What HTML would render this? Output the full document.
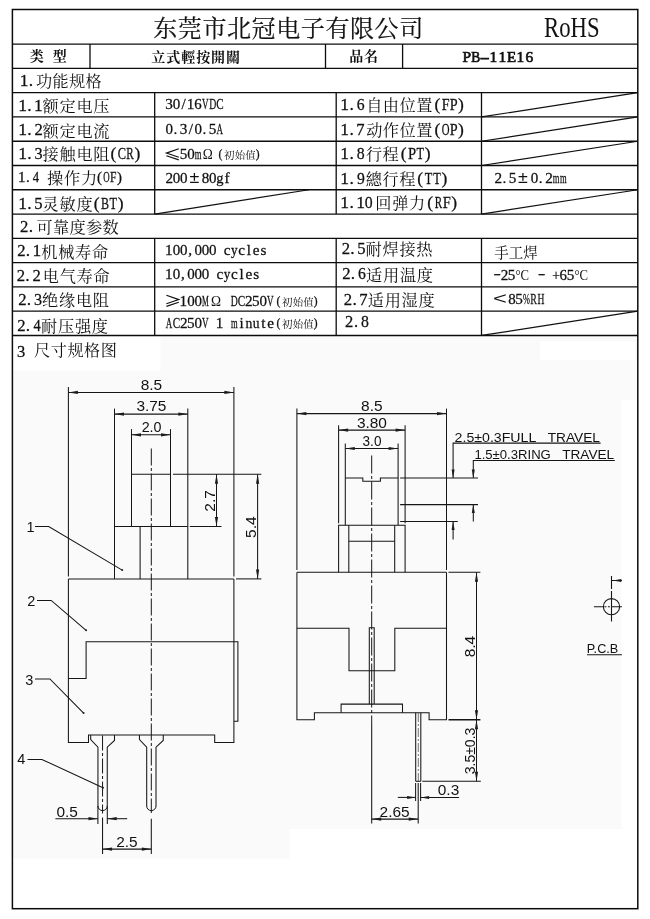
<!DOCTYPE html>
<html lang="zh">
<head>
<meta charset="utf-8">
<title>PB-11E16 Specification Sheet</title>
<style>
html,body{margin:0;padding:0;background:#fff;}
body{width:650px;height:919px;overflow:hidden;font-family:"Liberation Sans",sans-serif;}
svg{display:block;position:absolute;left:0;top:0;will-change:transform;}
svg text{fill:#111;white-space:pre;}
svg .k{stroke:#111;stroke-width:0.28px;}
svg .k2{stroke:#111;stroke-width:0.7px;}
svg .t text{stroke:#111;stroke-width:0.2px;}
svg .cj{font-family:"Liberation Serif","Noto Serif CJK SC",serif;}
svg .cjb{font-family:"Liberation Serif","Noto Serif CJK SC",serif;font-weight:bold;}
</style>
</head>
<body>
<svg width="650" height="919" viewBox="0 0 650 919">
<path d="M12.4 335.46 H637.8 V400 H621.5 V829 H290 V858.5 H12.4 Z" fill="#fafafa"/>
<rect x="12.4" y="336.46" width="148" height="34" fill="#fff"/>
<rect x="540" y="341" width="95" height="19" fill="#fff"/>
<rect x="12.4" y="9.5" width="625.4" height="899.2" fill="none" stroke="#0c0c0c" stroke-width="1.5"/>
<line x1="12.4" y1="44.1" x2="637.8" y2="44.1" stroke="#0c0c0c" stroke-width="1.35"/>
<line x1="12.4" y1="68.38" x2="637.8" y2="68.38" stroke="#0c0c0c" stroke-width="1.35"/>
<line x1="12.4" y1="92.66" x2="637.8" y2="92.66" stroke="#0c0c0c" stroke-width="1.35"/>
<line x1="12.4" y1="116.94" x2="637.8" y2="116.94" stroke="#0c0c0c" stroke-width="1.35"/>
<line x1="12.4" y1="141.22" x2="637.8" y2="141.22" stroke="#0c0c0c" stroke-width="1.35"/>
<line x1="12.4" y1="165.5" x2="637.8" y2="165.5" stroke="#0c0c0c" stroke-width="1.35"/>
<line x1="12.4" y1="189.78" x2="637.8" y2="189.78" stroke="#0c0c0c" stroke-width="1.35"/>
<line x1="12.4" y1="214.06" x2="637.8" y2="214.06" stroke="#0c0c0c" stroke-width="1.35"/>
<line x1="12.4" y1="238.34" x2="637.8" y2="238.34" stroke="#0c0c0c" stroke-width="1.35"/>
<line x1="12.4" y1="262.62" x2="637.8" y2="262.62" stroke="#0c0c0c" stroke-width="1.35"/>
<line x1="12.4" y1="286.9" x2="637.8" y2="286.9" stroke="#0c0c0c" stroke-width="1.35"/>
<line x1="12.4" y1="311.18" x2="637.8" y2="311.18" stroke="#0c0c0c" stroke-width="1.35"/>
<line x1="12.4" y1="335.46" x2="637.8" y2="335.46" stroke="#0c0c0c" stroke-width="1.35"/>
<line x1="90.0" y1="44.1" x2="90.0" y2="68.38" stroke="#0c0c0c" stroke-width="1.3"/>
<line x1="325.5" y1="44.1" x2="325.5" y2="68.38" stroke="#0c0c0c" stroke-width="1.3"/>
<line x1="402.6" y1="44.1" x2="402.6" y2="68.38" stroke="#0c0c0c" stroke-width="1.3"/>
<line x1="154.7" y1="92.66" x2="154.7" y2="214.06" stroke="#0c0c0c" stroke-width="1.3"/>
<line x1="336.2" y1="92.66" x2="336.2" y2="214.06" stroke="#0c0c0c" stroke-width="1.3"/>
<line x1="481.5" y1="92.66" x2="481.5" y2="214.06" stroke="#0c0c0c" stroke-width="1.3"/>
<line x1="154.7" y1="238.34" x2="154.7" y2="335.46" stroke="#0c0c0c" stroke-width="1.3"/>
<line x1="336.2" y1="238.34" x2="336.2" y2="335.46" stroke="#0c0c0c" stroke-width="1.3"/>
<line x1="481.5" y1="238.34" x2="481.5" y2="335.46" stroke="#0c0c0c" stroke-width="1.3"/>
<line x1="481.5" y1="116.94" x2="637.8" y2="92.66" stroke="#111" stroke-width="1.2"/>
<line x1="481.5" y1="141.22" x2="637.8" y2="116.94" stroke="#111" stroke-width="1.2"/>
<line x1="481.5" y1="165.5" x2="637.8" y2="141.22" stroke="#111" stroke-width="1.2"/>
<line x1="481.5" y1="214.06" x2="637.8" y2="189.78" stroke="#111" stroke-width="1.2"/>
<line x1="154.7" y1="214.06" x2="309.0" y2="189.78" stroke="#111" stroke-width="1.2"/>
<line x1="481.5" y1="335.46" x2="637.8" y2="311.18" stroke="#111" stroke-width="1.2"/>
<g class="t" aria-label="东莞市北冠电子有限公司"><text class="cj" font-size="24" y="36.52" x="153.20 177.80 202.40 227.00 251.60 276.20 300.80 325.40 350.00 374.60 399.20">东莞市北冠电子有限公司</text></g>
<text transform="translate(544.00,36.80) scale(0.7950,1)" font-family="Liberation Serif" font-size="28.6" text-anchor="start">RoHS</text>
<g aria-label="类"><text class="cjb" font-size="14" x="29.80" y="61.32">类</text></g>
<g aria-label="型"><text class="cjb" font-size="14" x="52.80" y="61.32">型</text></g>
<g aria-label="立式輕按開關"><text class="cjb" font-size="14" y="61.52" x="151.30 166.25 181.20 196.15 211.10 226.05">立式輕按開關</text></g>
<g aria-label="品名"><text class="cjb" font-size="14" y="60.92" x="349.30 364.10">品名</text></g>
<text class="k2" x="462.58" y="61.60" font-family="Liberation Serif" font-size="15.4">P</text>
<text class="k2" transform="translate(471.36,61.60) scale(0.876,1)" font-family="Liberation Serif" font-size="15.4" stroke-width="0.39">B</text>
<text class="k2" transform="translate(479.79,61.60) scale(1.900,1)" font-family="Liberation Serif" font-size="15.4">-</text>
<text class="k2" x="489.56 498.51" y="61.60" font-family="Liberation Serif" font-size="15.4">11</text>
<text class="k2" transform="translate(507.12,61.60) scale(0.970,1)" font-family="Liberation Serif" font-size="15.4" stroke-width="0.30">E</text>
<text class="k2" x="516.41 525.47" y="61.60" font-family="Liberation Serif" font-size="15.4">16</text>
<text class="k" x="19.63 28.86" y="85.98" font-family="Liberation Serif" font-size="17.5">1.</text>
<g aria-label="功能规格"><text class="cj" font-size="16.2" y="87.18" x="36.10 52.60 69.10 85.60">功能规格</text></g>
<text class="k" x="18.13 27.36 33.93" y="111.16" font-family="Liberation Serif" font-size="17.5">1.1</text>
<g aria-label="额定电压"><text class="cj" font-size="16.2" y="112.36" x="42.50 59.45 76.40 93.35">额定电压</text></g>
<text class="k" x="18.13 27.36" y="135.44" font-family="Liberation Serif" font-size="17.5">1.</text>
<text class="k" transform="translate(34.47,135.44) scale(0.955,1)" font-family="Liberation Serif" font-size="17.5" stroke-width="0.32">2</text>
<g aria-label="额定电流"><text class="cj" font-size="16.2" y="136.64" x="42.50 59.45 76.40 93.35">额定电流</text></g>
<text class="k" x="18.13 27.36" y="159.12" font-family="Liberation Serif" font-size="17.5">1.</text>
<text class="k" transform="translate(34.42,159.12) scale(0.927,1)" font-family="Liberation Serif" font-size="17.5" stroke-width="0.34">3</text>
<g aria-label="接触电阻"><text class="cj" font-size="16.2" y="160.32" x="42.50 59.45 76.40 93.35">接触电阻</text></g>
<text class="k" x="110.43" y="159.12" font-family="Liberation Serif" font-size="17.5">(</text>
<text class="k" transform="translate(117.69,159.12) scale(0.711,1)" font-family="Liberation Serif" font-size="17.5" stroke-width="0.59">C</text>
<text class="k" transform="translate(126.18,159.12) scale(0.637,1)" font-family="Liberation Serif" font-size="17.5" stroke-width="0.71">R</text>
<text class="k" x="134.54" y="159.12" font-family="Liberation Serif" font-size="17.5">)</text>
<text class="k" x="17.89 26.08" y="181.90" font-family="Liberation Serif" font-size="15.0">1.</text>
<text class="k" transform="translate(32.85,181.90) scale(0.846,1)" font-family="Liberation Serif" font-size="15.0" stroke-width="0.42">4</text>
<g aria-label="操作力"><text class="cj" font-size="16.2" y="183.50" x="47.00 64.00 81.00">操作力</text></g>
<text class="k" x="96.90" y="181.90" font-family="Liberation Serif" font-size="14.8">(</text>
<text class="k" transform="translate(103.13,181.90) scale(0.602,1)" font-family="Liberation Serif" font-size="14.8" stroke-width="0.78">O</text>
<text class="k" transform="translate(110.07,181.90) scale(0.784,1)" font-family="Liberation Serif" font-size="14.8" stroke-width="0.49">F</text>
<text class="k" x="116.94" y="181.90" font-family="Liberation Serif" font-size="14.8">)</text>
<text class="k" x="18.13 27.36" y="208.88" font-family="Liberation Serif" font-size="17.5">1.</text>
<text class="k" transform="translate(34.23,208.88) scale(0.950,1)" font-family="Liberation Serif" font-size="17.5" stroke-width="0.32">5</text>
<g aria-label="灵敏度"><text class="cj" font-size="16.2" y="210.08" x="42.50 59.50 76.50">灵敏度</text></g>
<text class="k" x="93.63" y="208.88" font-family="Liberation Serif" font-size="17.5">(</text>
<text class="k" transform="translate(101.05,208.88) scale(0.688,1)" font-family="Liberation Serif" font-size="17.5" stroke-width="0.62">B</text>
<text class="k" transform="translate(109.48,208.88) scale(0.704,1)" font-family="Liberation Serif" font-size="17.5" stroke-width="0.60">T</text>
<text class="k" x="117.74" y="208.88" font-family="Liberation Serif" font-size="17.5">)</text>
<text class="k" transform="translate(20.07,232.06) scale(0.955,1)" font-family="Liberation Serif" font-size="17.5" stroke-width="0.32">2</text>
<text class="k" x="28.76" y="232.06" font-family="Liberation Serif" font-size="17.5">.</text>
<g aria-label="可靠度参数"><text class="cj" font-size="16.2" y="233.26" x="36.50 53.00 69.50 86.00 102.50">可靠度参数</text></g>
<text class="k" transform="translate(17.17,256.44) scale(0.955,1)" font-family="Liberation Serif" font-size="17.5" stroke-width="0.32">2</text>
<text class="k" x="25.86 32.43" y="256.44" font-family="Liberation Serif" font-size="17.5">.1</text>
<g aria-label="机械寿命"><text class="cj" font-size="16.2" y="257.64" x="41.20 58.15 75.10 92.05">机械寿命</text></g>
<text class="k" transform="translate(16.67,280.72) scale(0.955,1)" font-family="Liberation Serif" font-size="17.5" stroke-width="0.32">2</text>
<text class="k" x="25.36" y="280.72" font-family="Liberation Serif" font-size="17.5">.</text>
<text class="k" transform="translate(32.47,280.72) scale(0.955,1)" font-family="Liberation Serif" font-size="17.5" stroke-width="0.32">2</text>
<g aria-label="电气寿命"><text class="cj" font-size="16.2" y="281.92" x="42.70 59.65 76.60 93.55">电气寿命</text></g>
<text class="k" transform="translate(18.17,304.80) scale(0.955,1)" font-family="Liberation Serif" font-size="17.5" stroke-width="0.32">2</text>
<text class="k" x="26.86" y="304.80" font-family="Liberation Serif" font-size="17.5">.</text>
<text class="k" transform="translate(33.92,304.80) scale(0.927,1)" font-family="Liberation Serif" font-size="17.5" stroke-width="0.34">3</text>
<g aria-label="绝缘电阻"><text class="cj" font-size="16.2" y="306.00" x="42.00 58.95 75.90 92.85">绝缘电阻</text></g>
<text class="k" transform="translate(17.17,330.58) scale(0.955,1)" font-family="Liberation Serif" font-size="17.5" stroke-width="0.32">2</text>
<text class="k" x="25.86" y="330.58" font-family="Liberation Serif" font-size="17.5">.</text>
<text class="k" transform="translate(33.42,330.58) scale(0.824,1)" font-family="Liberation Serif" font-size="17.5" stroke-width="0.44">4</text>
<g aria-label="耐压强度"><text class="cj" font-size="16.2" y="331.78" x="41.00 57.95 74.90 91.85">耐压强度</text></g>
<text class="k" x="340.33 349.56" y="110.26" font-family="Liberation Serif" font-size="17.5">1.</text>
<text class="k" transform="translate(356.73,110.26) scale(0.896,1)" font-family="Liberation Serif" font-size="17.5" stroke-width="0.37">6</text>
<g aria-label="自由位置"><text class="cj" font-size="16.2" y="111.46" x="366.20 382.85 399.50 416.15">自由位置</text></g>
<text class="k" x="434.43" y="110.26" font-family="Liberation Serif" font-size="17.5">(</text>
<text class="k" transform="translate(441.70,110.26) scale(0.803,1)" font-family="Liberation Serif" font-size="17.5" stroke-width="0.46">F</text>
<text class="k" transform="translate(449.79,110.26) scale(0.809,1)" font-family="Liberation Serif" font-size="17.5" stroke-width="0.46">P</text>
<text class="k" x="457.97" y="110.26" font-family="Liberation Serif" font-size="17.5">)</text>
<text class="k" x="340.33 349.56" y="134.54" font-family="Liberation Serif" font-size="17.5">1.</text>
<text class="k" transform="translate(356.31,134.54) scale(0.945,1)" font-family="Liberation Serif" font-size="17.5" stroke-width="0.32">7</text>
<g aria-label="动作位置"><text class="cj" font-size="16.2" y="135.74" x="366.20 382.85 399.50 416.15">动作位置</text></g>
<text class="k" x="434.43" y="134.54" font-family="Liberation Serif" font-size="17.5">(</text>
<text class="k" transform="translate(441.66,134.54) scale(0.616,1)" font-family="Liberation Serif" font-size="17.5" stroke-width="0.75">O</text>
<text class="k" transform="translate(449.79,134.54) scale(0.809,1)" font-family="Liberation Serif" font-size="17.5" stroke-width="0.46">P</text>
<text class="k" x="457.97" y="134.54" font-family="Liberation Serif" font-size="17.5">)</text>
<text class="k" x="340.33 349.56" y="158.52" font-family="Liberation Serif" font-size="17.5">1.</text>
<text class="k" transform="translate(356.80,158.52) scale(0.903,1)" font-family="Liberation Serif" font-size="17.5" stroke-width="0.36">8</text>
<g aria-label="行程"><text class="cj" font-size="16.2" y="159.72" x="365.90 382.60">行程</text></g>
<text class="k" x="400.63" y="158.52" font-family="Liberation Serif" font-size="17.5">(</text>
<text class="k" transform="translate(407.98,158.52) scale(0.833,1)" font-family="Liberation Serif" font-size="17.5" stroke-width="0.43">P</text>
<text class="k" transform="translate(416.48,158.52) scale(0.704,1)" font-family="Liberation Serif" font-size="17.5" stroke-width="0.60">T</text>
<text class="k" x="424.74" y="158.52" font-family="Liberation Serif" font-size="17.5">)</text>
<text class="k" x="340.33 349.56" y="183.70" font-family="Liberation Serif" font-size="17.5">1.</text>
<text class="k" transform="translate(356.89,183.70) scale(0.897,1)" font-family="Liberation Serif" font-size="17.5" stroke-width="0.37">9</text>
<g aria-label="總行程"><text class="cj" font-size="16.2" y="184.90" x="365.70 382.45 399.20">總行程</text></g>
<text class="k" x="417.28" y="183.70" font-family="Liberation Serif" font-size="17.5">(</text>
<text class="k" transform="translate(424.83,183.70) scale(0.704,1)" font-family="Liberation Serif" font-size="17.5" stroke-width="0.60">T</text>
<text class="k" transform="translate(433.13,183.70) scale(0.704,1)" font-family="Liberation Serif" font-size="17.5" stroke-width="0.60">T</text>
<text class="k" x="441.39" y="183.70" font-family="Liberation Serif" font-size="17.5">)</text>
<text class="k" x="340.33 349.56 356.13" y="208.48" font-family="Liberation Serif" font-size="17.5">1.1</text>
<text class="k" transform="translate(364.70,208.48) scale(0.903,1)" font-family="Liberation Serif" font-size="17.5" stroke-width="0.36">0</text>
<g aria-label="回弹力"><text class="cj" font-size="16.2" y="209.38" x="375.20 392.15 409.10">回弹力</text></g>
<text class="k" x="427.18" y="208.18" font-family="Liberation Serif" font-size="17.5">(</text>
<text class="k" transform="translate(434.63,208.18) scale(0.637,1)" font-family="Liberation Serif" font-size="17.5" stroke-width="0.71">R</text>
<text class="k" transform="translate(442.83,208.18) scale(0.826,1)" font-family="Liberation Serif" font-size="17.5" stroke-width="0.44">F</text>
<text class="k" x="451.29" y="208.18" font-family="Liberation Serif" font-size="17.5">)</text>
<text class="k" transform="translate(341.67,254.14) scale(0.955,1)" font-family="Liberation Serif" font-size="17.5" stroke-width="0.32">2</text>
<text class="k" x="350.36" y="254.14" font-family="Liberation Serif" font-size="17.5">.</text>
<text class="k" transform="translate(357.23,254.14) scale(0.950,1)" font-family="Liberation Serif" font-size="17.5" stroke-width="0.32">5</text>
<g aria-label="耐焊接热"><text class="cj" font-size="16.2" y="255.34" x="365.50 382.45 399.40 416.35">耐焊接热</text></g>
<text class="k" transform="translate(342.17,279.42) scale(0.955,1)" font-family="Liberation Serif" font-size="17.5" stroke-width="0.32">2</text>
<text class="k" x="350.86" y="279.42" font-family="Liberation Serif" font-size="17.5">.</text>
<text class="k" transform="translate(358.03,279.42) scale(0.896,1)" font-family="Liberation Serif" font-size="17.5" stroke-width="0.37">6</text>
<g aria-label="适用温度"><text class="cj" font-size="16.2" y="280.62" x="366.00 382.95 399.90 416.85">适用温度</text></g>
<text class="k" transform="translate(343.87,304.80) scale(0.955,1)" font-family="Liberation Serif" font-size="17.5" stroke-width="0.32">2</text>
<text class="k" x="352.56" y="304.80" font-family="Liberation Serif" font-size="17.5">.</text>
<text class="k" transform="translate(359.31,304.80) scale(0.945,1)" font-family="Liberation Serif" font-size="17.5" stroke-width="0.32">7</text>
<g aria-label="适用湿度"><text class="cj" font-size="16.2" y="306.00" x="367.70 384.65 401.60 418.55">适用湿度</text></g>
<text class="k" x="345.12 353.88" y="327.48" font-family="Liberation Serif" font-size="16.5">2.</text>
<text class="k" transform="translate(361.00,327.48) scale(0.958,1)" font-family="Liberation Serif" font-size="16.5" stroke-width="0.31">8</text>
<text class="k" x="17.01" y="357.00" font-family="Liberation Serif" font-size="16.5">3</text>
<g aria-label="尺寸规格图"><text class="cj" font-size="16.2" y="356.06" x="34.00 50.70 67.40 84.10 100.80">尺寸规格图</text></g>
<text class="k" x="165.26" y="109.26" font-family="Liberation Serif" font-size="15.2">3</text>
<text class="k" transform="translate(172.63,109.26) scale(0.986,1)" font-family="Liberation Serif" font-size="15.2" stroke-width="0.29">0</text>
<text class="k" x="181.51 186.86" y="109.26" font-family="Liberation Serif" font-size="15.2">/1</text>
<text class="k" transform="translate(194.31,109.26) scale(0.978,1)" font-family="Liberation Serif" font-size="15.2" stroke-width="0.30">6</text>
<text class="k" transform="translate(202.10,109.26) scale(0.597,1)" font-family="Liberation Serif" font-size="15.2" stroke-width="0.79">V</text>
<text class="k" transform="translate(209.17,109.26) scale(0.639,1)" font-family="Liberation Serif" font-size="15.2" stroke-width="0.70">D</text>
<text class="k" transform="translate(216.24,109.26) scale(0.732,1)" font-family="Liberation Serif" font-size="15.2" stroke-width="0.55">C</text>
<text class="k" transform="translate(165.38,134.34) scale(0.986,1)" font-family="Liberation Serif" font-size="15.2" stroke-width="0.29">0</text>
<text class="k" x="173.46 179.76 188.76" y="134.34" font-family="Liberation Serif" font-size="15.2">.3/</text>
<text class="k" transform="translate(194.38,134.34) scale(0.986,1)" font-family="Liberation Serif" font-size="15.2" stroke-width="0.29">0</text>
<text class="k" x="202.46 208.68" y="134.34" font-family="Liberation Serif" font-size="15.2">.5</text>
<text class="k" transform="translate(216.61,134.34) scale(0.593,1)" font-family="Liberation Serif" font-size="15.2" stroke-width="0.80">A</text>
<g aria-label="≤" fill="none" stroke="#111" stroke-width="1.15" stroke-linejoin="miter"><path d="M178.8 148.8 L166.4 153.1 L178.8 157.3"/><path d="M166.4 155.7 L178.8 159.9"/></g>
<text class="k" x="179.68" y="159.02" font-family="Liberation Serif" font-size="15.2">5</text>
<text class="k" transform="translate(187.13,159.02) scale(0.986,1)" font-family="Liberation Serif" font-size="15.2" stroke-width="0.29">0</text>
<text class="k" transform="translate(194.77,159.02) scale(0.564,1)" font-family="Liberation Serif" font-size="15.2" stroke-width="0.86">m</text>
<text transform="translate(202.70,159.02) scale(0.9000,1)" font-family="Liberation Serif" font-size="15" text-anchor="start">Ω</text>
<text class="k" x="218.52" y="158.22" font-family="Liberation Serif" font-size="11.5">(</text>
<g aria-label="初始值"><text class="cj" font-size="10.5" y="158.96" x="224.10 234.70 245.30">初始值</text></g>
<text class="k" x="255.81" y="158.22" font-family="Liberation Serif" font-size="11.5">)</text>
<text class="k" x="165.41" y="183.00" font-family="Liberation Serif" font-size="15.2">2</text>
<text class="k" transform="translate(172.63,183.00) scale(0.986,1)" font-family="Liberation Serif" font-size="15.2" stroke-width="0.29">0</text>
<text class="k" transform="translate(179.88,183.00) scale(0.986,1)" font-family="Liberation Serif" font-size="15.2" stroke-width="0.29">0</text>
<text transform="translate(189.50,183.00) scale(1.0500,1)" font-family="Liberation Sans" font-size="17" text-anchor="start">±</text>
<text class="k" transform="translate(201.68,183.00) scale(0.986,1)" font-family="Liberation Serif" font-size="15.2" stroke-width="0.29">8</text>
<text class="k" transform="translate(208.93,183.00) scale(0.986,1)" font-family="Liberation Serif" font-size="15.2" stroke-width="0.29">0</text>
<text class="k" transform="translate(216.13,183.00) scale(0.954,1)" font-family="Liberation Serif" font-size="15.2" stroke-width="0.32">g</text>
<text class="k" x="224.41" y="183.00" font-family="Liberation Serif" font-size="15.2">f</text>
<text class="k" x="165.11" y="254.94" font-family="Liberation Serif" font-size="15.2">1</text>
<text class="k" transform="translate(172.63,254.94) scale(0.986,1)" font-family="Liberation Serif" font-size="15.2" stroke-width="0.29">0</text>
<text class="k" transform="translate(179.88,254.94) scale(0.986,1)" font-family="Liberation Serif" font-size="15.2" stroke-width="0.29">0</text>
<text class="k" x="188.15" y="254.94" font-family="Liberation Serif" font-size="15.2">,</text>
<text class="k" transform="translate(194.38,254.94) scale(0.986,1)" font-family="Liberation Serif" font-size="15.2" stroke-width="0.29">0</text>
<text class="k" transform="translate(201.63,254.94) scale(0.986,1)" font-family="Liberation Serif" font-size="15.2" stroke-width="0.29">0</text>
<text class="k" transform="translate(208.88,254.94) scale(0.986,1)" font-family="Liberation Serif" font-size="15.2" stroke-width="0.29">0</text>
<text class="k" x="223.70" y="254.94" font-family="Liberation Serif" font-size="15.2">c</text>
<text class="k" transform="translate(231.04,254.94) scale(0.863,1)" font-family="Liberation Serif" font-size="15.2" stroke-width="0.40">y</text>
<text class="k" x="238.20 246.76 252.72 260.38" y="254.94" font-family="Liberation Serif" font-size="15.2">cles</text>
<text class="k" x="165.11" y="278.92" font-family="Liberation Serif" font-size="15.2">1</text>
<text class="k" transform="translate(172.63,278.92) scale(0.986,1)" font-family="Liberation Serif" font-size="15.2" stroke-width="0.29">0</text>
<text class="k" x="180.90" y="278.92" font-family="Liberation Serif" font-size="15.2">,</text>
<text class="k" transform="translate(187.13,278.92) scale(0.986,1)" font-family="Liberation Serif" font-size="15.2" stroke-width="0.29">0</text>
<text class="k" transform="translate(194.38,278.92) scale(0.986,1)" font-family="Liberation Serif" font-size="15.2" stroke-width="0.29">0</text>
<text class="k" transform="translate(201.63,278.92) scale(0.986,1)" font-family="Liberation Serif" font-size="15.2" stroke-width="0.29">0</text>
<text class="k" x="216.45" y="278.92" font-family="Liberation Serif" font-size="15.2">c</text>
<text class="k" transform="translate(223.79,278.92) scale(0.863,1)" font-family="Liberation Serif" font-size="15.2" stroke-width="0.40">y</text>
<text class="k" x="230.95 239.51 245.47 253.13" y="278.92" font-family="Liberation Serif" font-size="15.2">cles</text>
<g aria-label="≥" fill="none" stroke="#111" stroke-width="1.15" stroke-linejoin="miter"><path d="M166.4 295.3 L178.8 299.6 L166.4 303.8"/><path d="M178.8 302.2 L166.4 306.4"/></g>
<text class="k" x="179.61" y="306.10" font-family="Liberation Serif" font-size="15.2">1</text>
<text class="k" transform="translate(187.13,306.10) scale(0.986,1)" font-family="Liberation Serif" font-size="15.2" stroke-width="0.29">0</text>
<text class="k" transform="translate(194.38,306.10) scale(0.986,1)" font-family="Liberation Serif" font-size="15.2" stroke-width="0.29">0</text>
<text class="k" transform="translate(201.98,306.10) scale(0.503,1)" font-family="Liberation Serif" font-size="15.2" stroke-width="1.02">M</text>
<text transform="translate(211.10,306.10) scale(0.9000,1)" font-family="Liberation Serif" font-size="15" text-anchor="start">Ω</text>
<text class="k" transform="translate(230.67,306.10) scale(0.639,1)" font-family="Liberation Serif" font-size="15.2" stroke-width="0.70">D</text>
<text class="k" transform="translate(237.74,306.10) scale(0.732,1)" font-family="Liberation Serif" font-size="15.2" stroke-width="0.55">C</text>
<text class="k" x="244.91 251.93" y="306.10" font-family="Liberation Serif" font-size="15.2">25</text>
<text class="k" transform="translate(259.38,306.10) scale(0.986,1)" font-family="Liberation Serif" font-size="15.2" stroke-width="0.29">0</text>
<text class="k" transform="translate(267.10,306.10) scale(0.597,1)" font-family="Liberation Serif" font-size="15.2" stroke-width="0.79">V</text>
<text class="k" x="276.52" y="305.30" font-family="Liberation Serif" font-size="11.5">(</text>
<g aria-label="初始值"><text class="cj" font-size="10.5" y="306.04" x="282.10 292.70 303.30">初始值</text></g>
<text class="k" x="313.81" y="305.30" font-family="Liberation Serif" font-size="11.5">)</text>
<text class="k" transform="translate(165.86,327.98) scale(0.593,1)" font-family="Liberation Serif" font-size="15.2" stroke-width="0.80">A</text>
<text class="k" transform="translate(172.74,327.98) scale(0.732,1)" font-family="Liberation Serif" font-size="15.2" stroke-width="0.55">C</text>
<text class="k" x="179.91 186.93" y="327.98" font-family="Liberation Serif" font-size="15.2">25</text>
<text class="k" transform="translate(194.38,327.98) scale(0.986,1)" font-family="Liberation Serif" font-size="15.2" stroke-width="0.29">0</text>
<text class="k" transform="translate(202.10,327.98) scale(0.597,1)" font-family="Liberation Serif" font-size="15.2" stroke-width="0.79">V</text>
<text class="k" x="215.86" y="327.98" font-family="Liberation Serif" font-size="15.2">1</text>
<text class="k" transform="translate(231.02,327.98) scale(0.564,1)" font-family="Liberation Serif" font-size="15.2" stroke-width="0.86">m</text>
<text class="k" x="239.50" y="327.98" font-family="Liberation Serif" font-size="15.2">i</text>
<text class="k" transform="translate(245.38,327.98) scale(0.904,1)" font-family="Liberation Serif" font-size="15.2" stroke-width="0.36">n</text>
<text class="k" transform="translate(252.77,327.98) scale(0.889,1)" font-family="Liberation Serif" font-size="15.2" stroke-width="0.37">u</text>
<text class="k" x="261.23 267.22" y="327.98" font-family="Liberation Serif" font-size="15.2">te</text>
<text class="k" x="276.52" y="327.18" font-family="Liberation Serif" font-size="11.5">(</text>
<g aria-label="初始值"><text class="cj" font-size="10.5" y="327.92" x="282.10 292.70 303.30">初始值</text></g>
<text class="k" x="313.81" y="327.18" font-family="Liberation Serif" font-size="11.5">)</text>
<text class="k" x="494.41 502.46 508.68" y="183.20" font-family="Liberation Serif" font-size="15.2">2.5</text>
<text transform="translate(518.10,183.20) scale(1.0500,1)" font-family="Liberation Sans" font-size="17" text-anchor="start">±</text>
<text class="k" transform="translate(530.68,183.20) scale(0.986,1)" font-family="Liberation Serif" font-size="15.2" stroke-width="0.29">0</text>
<text class="k" x="538.76 545.21" y="183.20" font-family="Liberation Serif" font-size="15.2">.2</text>
<text class="k" transform="translate(552.82,183.20) scale(0.564,1)" font-family="Liberation Serif" font-size="15.2" stroke-width="0.86">m</text>
<text class="k" transform="translate(560.07,183.20) scale(0.564,1)" font-family="Liberation Serif" font-size="15.2" stroke-width="0.86">m</text>
<g aria-label="手工焊"><text class="cj" font-size="14.5" y="257.60" x="494.30 508.80 523.30">手工焊</text></g>
<text class="k" transform="translate(493.44,278.02) scale(1.450,1)" font-family="Liberation Serif" font-size="15.2">-</text>
<text class="k" x="500.66 507.68" y="279.82" font-family="Liberation Serif" font-size="15.2">25</text>
<text transform="translate(515.50,279.82) scale(0.8500,1)" font-family="Liberation Serif" font-size="15" text-anchor="start">°C</text>
<text class="k" transform="translate(537.94,278.02) scale(1.450,1)" font-family="Liberation Serif" font-size="15.2">-</text>
<text class="k" transform="translate(552.27,279.82) scale(0.898,1)" font-family="Liberation Serif" font-size="15.2" stroke-width="0.37">+</text>
<text class="k" transform="translate(559.56,279.82) scale(0.978,1)" font-family="Liberation Serif" font-size="15.2" stroke-width="0.30">6</text>
<text class="k" x="566.68" y="279.82" font-family="Liberation Serif" font-size="15.2">5</text>
<text transform="translate(574.50,279.82) scale(0.8500,1)" font-family="Liberation Serif" font-size="15" text-anchor="start">°C</text>
<text transform="translate(493.00,304.10) scale(1.4000,1)" font-family="Liberation Sans" font-size="17" text-anchor="start">&lt;</text>
<text class="k" transform="translate(508.18,304.10) scale(0.986,1)" font-family="Liberation Serif" font-size="15.2" stroke-width="0.29">8</text>
<text class="k" x="515.23" y="304.10" font-family="Liberation Serif" font-size="15.2">5</text>
<text class="k" transform="translate(522.97,304.10) scale(0.546,1)" font-family="Liberation Serif" font-size="15.2" stroke-width="0.90">%</text>
<text class="k" transform="translate(530.21,304.10) scale(0.656,1)" font-family="Liberation Serif" font-size="15.2" stroke-width="0.67">R</text>
<text class="k" transform="translate(537.47,304.10) scale(0.629,1)" font-family="Liberation Serif" font-size="15.2" stroke-width="0.72">H</text>
<line x1="68.4" y1="387" x2="68.4" y2="576.6" stroke="#161616" stroke-width="1.05"/>
<line x1="233.9" y1="387" x2="233.9" y2="576.6" stroke="#161616" stroke-width="1.05"/>
<line x1="68.4" y1="392.4" x2="233.9" y2="392.4" stroke="#161616" stroke-width="1.05"/>
<path d="M68.40 392.40 L77.90 390.80 L77.90 394.00 Z" fill="#1c1c1c"/>
<path d="M233.90 392.40 L224.40 394.00 L224.40 390.80 Z" fill="#1c1c1c"/>
<text transform="translate(151.40,390.20) scale(1.0800,1)" font-family="Liberation Sans" font-size="14.3" text-anchor="middle" fill="#2e2e2e">8.5</text>
<line x1="114.5" y1="408.6" x2="114.5" y2="578.9" stroke="#161616" stroke-width="1.05"/>
<line x1="187.8" y1="408.6" x2="187.8" y2="578.9" stroke="#161616" stroke-width="1.05"/>
<line x1="114.5" y1="414.1" x2="187.8" y2="414.1" stroke="#161616" stroke-width="1.05"/>
<path d="M114.50 414.10 L124.00 412.50 L124.00 415.70 Z" fill="#1c1c1c"/>
<path d="M187.80 414.10 L178.30 415.70 L178.30 412.50 Z" fill="#1c1c1c"/>
<text transform="translate(151.40,411.30) scale(1.0800,1)" font-family="Liberation Sans" font-size="14.3" text-anchor="middle" fill="#2e2e2e">3.75</text>
<line x1="131.5" y1="429.1" x2="131.5" y2="526.5" stroke="#161616" stroke-width="1.05"/>
<line x1="170.5" y1="429.1" x2="170.5" y2="526.5" stroke="#161616" stroke-width="1.05"/>
<line x1="131.5" y1="434.8" x2="170.5" y2="434.8" stroke="#161616" stroke-width="1.05"/>
<path d="M131.50 434.80 L141.00 433.20 L141.00 436.40 Z" fill="#1c1c1c"/>
<path d="M170.50 434.80 L161.00 436.40 L161.00 433.20 Z" fill="#1c1c1c"/>
<text transform="translate(151.60,432.40) scale(1.0000,1)" font-family="Liberation Sans" font-size="14.3" text-anchor="middle" fill="#2e2e2e">2.0</text>
<line x1="131.5" y1="474.2" x2="170.5" y2="474.2" stroke="#161616" stroke-width="1.05"/>
<line x1="172.9" y1="474.2" x2="261.4" y2="474.2" stroke="#161616" stroke-width="1.05"/>
<line x1="114.5" y1="526.5" x2="187.8" y2="526.5" stroke="#161616" stroke-width="1.05"/>
<line x1="189.8" y1="526.5" x2="221.5" y2="526.5" stroke="#161616" stroke-width="1.05"/>
<line x1="140.1" y1="526.5" x2="140.1" y2="578.9" stroke="#161616" stroke-width="1.05"/>
<line x1="216.5" y1="474.2" x2="216.5" y2="526.5" stroke="#161616" stroke-width="1.05"/>
<path d="M216.50 474.20 L218.10 483.70 L214.90 483.70 Z" fill="#1c1c1c"/>
<path d="M216.50 526.50 L214.90 517.00 L218.10 517.00 Z" fill="#1c1c1c"/>
<text transform="translate(214.60,500.90) rotate(-90) scale(1.08,1)" font-family="Liberation Sans" font-size="14.3" text-anchor="middle" fill="#2e2e2e">2.7</text>
<line x1="257.6" y1="474.2" x2="257.6" y2="578.9" stroke="#161616" stroke-width="1.05"/>
<path d="M257.60 474.20 L259.20 483.70 L256.00 483.70 Z" fill="#1c1c1c"/>
<path d="M257.60 578.90 L256.00 569.40 L259.20 569.40 Z" fill="#1c1c1c"/>
<text transform="translate(255.80,527.20) rotate(-90) scale(1.08,1)" font-family="Liberation Sans" font-size="14.3" text-anchor="middle" fill="#2e2e2e">5.4</text>
<line x1="68.4" y1="578.9" x2="233.9" y2="578.9" stroke="#161616" stroke-width="1.05"/>
<line x1="236" y1="578.9" x2="261.4" y2="578.9" stroke="#161616" stroke-width="1.05"/>
<path d="M68.4 578.9 L68.4 742.5 L88.5 742.5 L88.5 735.0 L214.7 735.0 L214.7 742.5 L233.9 742.5 L233.9 578.9" fill="none" stroke="#161616" stroke-width="1.05"/>
<path d="M68.4 678.4 L86.1 678.4 L86.1 641.8 L237.9 641.8 L237.9 721.3 L233.9 721.3" fill="none" stroke="#161616" stroke-width="1.05"/>
<path d="M90.69999999999999 735 L90.69999999999999 739.6 L97.94999999999999 747.2 L97.94999999999999 806.2" fill="none" stroke="#161616" stroke-width="1.05"/>
<path d="M114.5 735 L114.5 740.4 L107.25 747.2 L107.25 806.2" fill="none" stroke="#161616" stroke-width="1.05"/>
<path d="M97.94999999999999 806.0 A4.65 4.65 0 0 0 107.25 806.0" fill="none" stroke="#161616" stroke-width="1"/>
<path d="M139.45 735 L139.45 739.6 L146.7 747.2 L146.7 806.2" fill="none" stroke="#161616" stroke-width="1.05"/>
<path d="M163.25 735 L163.25 740.4 L156.0 747.2 L156.0 806.2" fill="none" stroke="#161616" stroke-width="1.05"/>
<path d="M146.7 806.0 A4.65 4.65 0 0 0 156.0 806.0" fill="none" stroke="#161616" stroke-width="1"/>
<line x1="151.3" y1="448.5" x2="151.3" y2="813.0" stroke="#161616" stroke-width="1" stroke-dasharray="17 2.5 3 2.5" stroke-dashoffset="0"/>
<line x1="102.55" y1="735.5" x2="102.55" y2="813.5" stroke="#161616" stroke-width="1" stroke-dasharray="15 2.5 3 2.5" stroke-dashoffset="0"/>
<line x1="151.3" y1="818.8" x2="151.3" y2="854.0" stroke="#161616" stroke-width="1.05"/>
<line x1="102.55" y1="817.4" x2="102.55" y2="854.0" stroke="#161616" stroke-width="1.05"/>
<line x1="97.9" y1="806" x2="97.9" y2="824.0" stroke="#161616" stroke-width="1.05"/>
<line x1="107.3" y1="806" x2="107.3" y2="824.0" stroke="#161616" stroke-width="1.05"/>
<line x1="55.4" y1="818.7" x2="98.0" y2="818.7" stroke="#161616" stroke-width="1.05"/>
<path d="M98.00 818.70 L88.50 820.30 L88.50 817.10 Z" fill="#1c1c1c"/>
<line x1="107.2" y1="818.7" x2="127.2" y2="818.7" stroke="#161616" stroke-width="1.05"/>
<path d="M107.20 818.70 L116.70 817.10 L116.70 820.30 Z" fill="#1c1c1c"/>
<text transform="translate(67.20,816.60) scale(1.0800,1)" font-family="Liberation Sans" font-size="14.3" text-anchor="middle" fill="#2e2e2e">0.5</text>
<line x1="102.55" y1="849.1" x2="151.3" y2="849.1" stroke="#161616" stroke-width="1.05"/>
<path d="M102.55 849.10 L112.05 847.50 L112.05 850.70 Z" fill="#1c1c1c"/>
<path d="M151.30 849.10 L141.80 850.70 L141.80 847.50 Z" fill="#1c1c1c"/>
<text transform="translate(126.90,846.50) scale(1.0800,1)" font-family="Liberation Sans" font-size="14.3" text-anchor="middle" fill="#2e2e2e">2.5</text>
<text transform="translate(26.50,532.00) scale(1.0000,1)" font-family="Liberation Sans" font-size="14.5" text-anchor="start" fill="#222">1</text>
<path d="M35.0 526.5 L48.7 526.5 L122.2 570.1" fill="none" stroke="#161616" stroke-width="1.05"/>
<circle cx="122.2" cy="570.1" r="1.0" fill="#222"/>
<text transform="translate(27.30,606.00) scale(1.0000,1)" font-family="Liberation Sans" font-size="14.5" text-anchor="start" fill="#222">2</text>
<path d="M37.0 600.4 L51.2 600.4 L86.1 630.3" fill="none" stroke="#161616" stroke-width="1.05"/>
<circle cx="86.1" cy="630.3" r="1.0" fill="#222"/>
<text transform="translate(25.30,684.60) scale(1.0000,1)" font-family="Liberation Sans" font-size="14.5" text-anchor="start" fill="#222">3</text>
<path d="M35.0 678.9 L49.9 678.9 L83.6 713.1" fill="none" stroke="#161616" stroke-width="1.05"/>
<circle cx="83.6" cy="713.1" r="1.0" fill="#222"/>
<text transform="translate(17.30,764.40) scale(1.0000,1)" font-family="Liberation Sans" font-size="14.5" text-anchor="start" fill="#222">4</text>
<path d="M27.5 759.4 L41.9 759.4 L103.0 787.8" fill="none" stroke="#161616" stroke-width="1.05"/>
<circle cx="103.0" cy="787.8" r="1.0" fill="#222"/>
<line x1="296.9" y1="408.6" x2="296.9" y2="570.0" stroke="#161616" stroke-width="1.05"/>
<line x1="446.5" y1="408.6" x2="446.5" y2="570.0" stroke="#161616" stroke-width="1.05"/>
<line x1="296.9" y1="413.6" x2="446.5" y2="413.6" stroke="#161616" stroke-width="1.05"/>
<path d="M296.90 413.60 L306.40 412.00 L306.40 415.20 Z" fill="#1c1c1c"/>
<path d="M446.50 413.60 L437.00 415.20 L437.00 412.00 Z" fill="#1c1c1c"/>
<text transform="translate(371.80,411.20) scale(1.0800,1)" font-family="Liberation Sans" font-size="14.3" text-anchor="middle" fill="#2e2e2e">8.5</text>
<line x1="338.6" y1="425.3" x2="338.6" y2="523.3" stroke="#161616" stroke-width="1.05"/>
<line x1="405.1" y1="425.3" x2="405.1" y2="523.3" stroke="#161616" stroke-width="1.05"/>
<line x1="338.6" y1="430.1" x2="405.1" y2="430.1" stroke="#161616" stroke-width="1.05"/>
<path d="M338.60 430.10 L348.10 428.50 L348.10 431.70 Z" fill="#1c1c1c"/>
<path d="M405.10 430.10 L395.60 431.70 L395.60 428.50 Z" fill="#1c1c1c"/>
<text transform="translate(371.90,428.00) scale(1.0800,1)" font-family="Liberation Sans" font-size="14.3" text-anchor="middle" fill="#2e2e2e">3.80</text>
<line x1="345.3" y1="443.5" x2="345.3" y2="525.3" stroke="#161616" stroke-width="1.05"/>
<line x1="398.1" y1="443.5" x2="398.1" y2="525.3" stroke="#161616" stroke-width="1.05"/>
<line x1="345.3" y1="448.5" x2="398.1" y2="448.5" stroke="#161616" stroke-width="1.05"/>
<path d="M345.30 448.50 L354.80 446.90 L354.80 450.10 Z" fill="#1c1c1c"/>
<path d="M398.10 448.50 L388.60 450.10 L388.60 446.90 Z" fill="#1c1c1c"/>
<text transform="translate(372.00,446.40) scale(0.9500,1)" font-family="Liberation Sans" font-size="14.3" text-anchor="middle" fill="#2e2e2e">3.0</text>
<path d="M345.3 477.9 L362.8 477.9 L362.8 481.2 L380.4 481.2 L380.4 477.9 L398.1 477.9" fill="none" stroke="#161616" stroke-width="1.05"/>
<path d="M338.6 572.3 L338.6 525.3 L405.1 525.3 L405.1 572.3" fill="none" stroke="#161616" stroke-width="1.05"/>
<line x1="348.8" y1="525.3" x2="348.8" y2="572.3" stroke="#161616" stroke-width="1.05"/>
<line x1="394.7" y1="525.3" x2="394.7" y2="572.3" stroke="#161616" stroke-width="1.05"/>
<line x1="348.8" y1="541.2" x2="394.7" y2="541.2" stroke="#161616" stroke-width="1.05"/>
<line x1="400.1" y1="477.9" x2="478.0" y2="477.9" stroke="#161616" stroke-width="1.05"/>
<line x1="400.1" y1="504.6" x2="478.0" y2="504.6" stroke="#161616" stroke-width="1.05"/>
<line x1="400.1" y1="521.5" x2="457.8" y2="521.5" stroke="#161616" stroke-width="1.05"/>
<path d="M600.6 443.1 L453.1 443.1 L453.1 477.9" fill="none" stroke="#161616" stroke-width="1.05"/>
<path d="M453.10 477.90 L451.60 469.40 L454.60 469.40 Z" fill="#1c1c1c"/>
<path d="M614.8 460.4 L473.3 460.4 L473.3 477.9" fill="none" stroke="#161616" stroke-width="1.05"/>
<path d="M473.30 477.90 L471.80 469.40 L474.80 469.40 Z" fill="#1c1c1c"/>
<line x1="473.3" y1="521.5" x2="473.3" y2="504.6" stroke="#161616" stroke-width="1.05"/>
<path d="M473.30 504.60 L474.80 513.10 L471.80 513.10 Z" fill="#1c1c1c"/>
<line x1="453.1" y1="539.5" x2="453.1" y2="521.5" stroke="#161616" stroke-width="1.05"/>
<path d="M453.10 521.50 L454.60 530.00 L451.60 530.00 Z" fill="#1c1c1c"/>
<text transform="translate(454.60,441.50) scale(1.0000,1)" font-family="Liberation Sans" font-size="12.8" text-anchor="start" textLength="81.7" lengthAdjust="spacingAndGlyphs" fill="#333">2.5±0.3FULL</text>
<text transform="translate(547.70,441.50) scale(1.0000,1)" font-family="Liberation Sans" font-size="12.8" text-anchor="start" textLength="52.3" lengthAdjust="spacingAndGlyphs" fill="#333">TRAVEL</text>
<text transform="translate(474.40,458.50) scale(1.0000,1)" font-family="Liberation Sans" font-size="12.8" text-anchor="start" textLength="76.4" lengthAdjust="spacingAndGlyphs" fill="#333">1.5±0.3RING</text>
<text transform="translate(562.20,458.50) scale(1.0000,1)" font-family="Liberation Sans" font-size="12.8" text-anchor="start" textLength="52.0" lengthAdjust="spacingAndGlyphs" fill="#333">TRAVEL</text>
<line x1="296.9" y1="572.3" x2="446.5" y2="572.3" stroke="#161616" stroke-width="1.05"/>
<line x1="448.5" y1="572.3" x2="480.4" y2="572.3" stroke="#161616" stroke-width="1.05"/>
<path d="M296.9 572.3 L296.9 719.8 L314.4 719.8 L314.4 712.8 L429.1 712.8 L429.1 719.8 L446.5 719.8 L446.5 572.3" fill="none" stroke="#161616" stroke-width="1.05"/>
<path d="M296.9 628.3 L349.0 628.3 L349.0 670.7 L394.8 670.7 L394.8 628.3 L446.5 628.3" fill="none" stroke="#161616" stroke-width="1.05"/>
<path d="M369.3 704.1 L369.3 627.8 L374.2 627.8 L374.2 704.1" fill="none" stroke="#161616" stroke-width="1.05"/>
<path d="M341.1 712.8 L341.1 704.1 L402.5 704.1 L402.5 712.8" fill="none" stroke="#161616" stroke-width="1.05"/>
<line x1="415.7" y1="712.8" x2="415.7" y2="781.3" stroke="#161616" stroke-width="1.05"/>
<line x1="420.8" y1="712.8" x2="420.8" y2="781.3" stroke="#161616" stroke-width="1.05"/>
<line x1="415.7" y1="781.3" x2="420.8" y2="781.3" stroke="#161616" stroke-width="1.05"/>
<line x1="418.3" y1="713" x2="418.3" y2="781" stroke="#555" stroke-width="0.8" stroke-dasharray="9 2 2 2"/>
<line x1="371.7" y1="455.5" x2="371.7" y2="725" stroke="#161616" stroke-width="1" stroke-dasharray="18 2.5 3 2.5" stroke-dashoffset="0"/>
<line x1="371.7" y1="725" x2="371.7" y2="823.6" stroke="#161616" stroke-width="1.05"/>
<line x1="448.5" y1="719.8" x2="480.4" y2="719.8" stroke="#161616" stroke-width="1.5"/>
<line x1="422.3" y1="781.3" x2="480.8" y2="781.3" stroke="#161616" stroke-width="1.05"/>
<line x1="476.5" y1="572.3" x2="476.5" y2="719.8" stroke="#161616" stroke-width="1.05"/>
<path d="M476.50 572.30 L478.10 581.80 L474.90 581.80 Z" fill="#1c1c1c"/>
<path d="M476.50 719.80 L474.90 710.30 L478.10 710.30 Z" fill="#1c1c1c"/>
<text transform="translate(474.60,646.60) rotate(-90) scale(1.08,1)" font-family="Liberation Sans" font-size="14.3" text-anchor="middle" fill="#2e2e2e">8.4</text>
<line x1="476.5" y1="719.8" x2="476.5" y2="781.3" stroke="#161616" stroke-width="1.05"/>
<path d="M476.50 719.80 L478.10 729.30 L474.90 729.30 Z" fill="#1c1c1c"/>
<path d="M476.50 781.30 L474.90 771.80 L478.10 771.80 Z" fill="#1c1c1c"/>
<text transform="translate(474.60,751.00) rotate(-90) scale(0.98,1)" font-family="Liberation Sans" font-size="14.3" text-anchor="middle" fill="#2e2e2e">3.5±0.3</text>
<line x1="415.6" y1="783" x2="415.6" y2="801.1" stroke="#161616" stroke-width="1.05"/>
<line x1="420.6" y1="783" x2="420.6" y2="801.1" stroke="#161616" stroke-width="1.05"/>
<line x1="418.2" y1="783" x2="418.2" y2="823.6" stroke="#161616" stroke-width="1.05"/>
<line x1="397.8" y1="797.4" x2="415.6" y2="797.4" stroke="#161616" stroke-width="1.05"/>
<path d="M415.60 797.40 L407.10 798.90 L407.10 795.90 Z" fill="#1c1c1c"/>
<line x1="420.6" y1="797.4" x2="459.1" y2="797.4" stroke="#161616" stroke-width="1.05"/>
<path d="M420.60 797.40 L429.10 795.90 L429.10 798.90 Z" fill="#1c1c1c"/>
<text transform="translate(448.50,795.30) scale(1.0800,1)" font-family="Liberation Sans" font-size="14.3" text-anchor="middle" fill="#2e2e2e">0.3</text>
<line x1="371.7" y1="819.1" x2="418.2" y2="819.1" stroke="#161616" stroke-width="1.05"/>
<path d="M371.70 819.10 L381.20 817.50 L381.20 820.70 Z" fill="#1c1c1c"/>
<path d="M418.20 819.10 L408.70 820.70 L408.70 817.50 Z" fill="#1c1c1c"/>
<text transform="translate(394.60,816.70) scale(1.0800,1)" font-family="Liberation Sans" font-size="14.3" text-anchor="middle" fill="#2e2e2e">2.65</text>
<circle cx="611.5" cy="606.7" r="8.1" fill="none" stroke="#161616" stroke-width="1.1"/>
<line x1="611.5" y1="575.9" x2="611.5" y2="621.6" stroke="#161616" stroke-width="1.1" stroke-dasharray="13 2 100"/>
<line x1="593.9" y1="606.7" x2="621.9" y2="606.7" stroke="#161616" stroke-width="1.1" stroke-dasharray="9 1.5 2 1.5 2 1.5 100"/>
<line x1="611.5" y1="580.5" x2="621.9" y2="580.5" stroke="#161616" stroke-width="1.05"/>
<path d="M612.80 580.50 L621.30 579.00 L621.30 582.00 Z" fill="#1c1c1c"/>
<text transform="translate(586.80,653.20) scale(1.0000,1)" font-family="Liberation Sans" font-size="12.8" text-anchor="start" textLength="31.5" lengthAdjust="spacingAndGlyphs" fill="#222">P.C.B</text>
<line x1="587.0" y1="654.8" x2="621.9" y2="654.8" stroke="#161616" stroke-width="1.1"/>
</svg>
</body>
</html>
